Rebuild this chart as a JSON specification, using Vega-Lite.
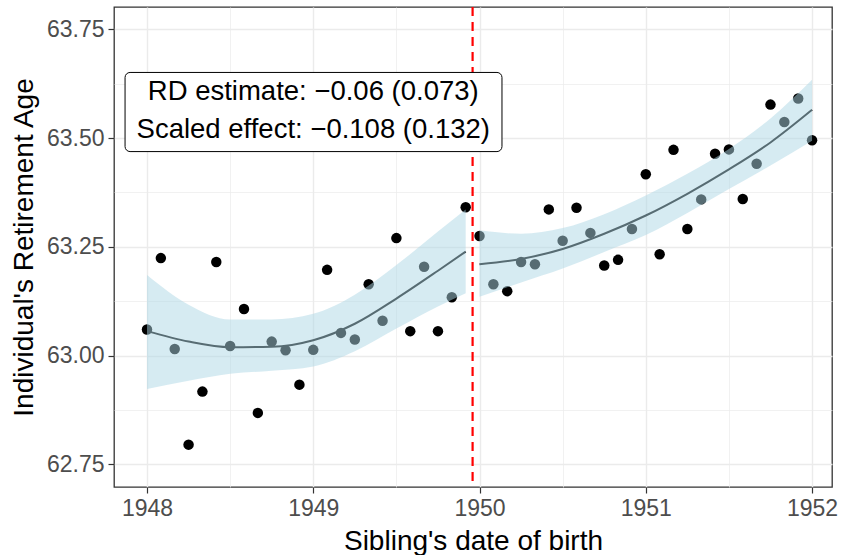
{
  "$schema": "https://vega.github.io/schema/vega-lite/v6.json",
  "width": 718,
  "height": 480,
  "autosize": {"type": "none"},
  "padding": {"left": 114, "top": 7, "right": 10, "bottom": 68},
  "background": "white",
  "config": {
    "view": {"stroke": "#333333", "strokeWidth": 1.3},
    "axis": {
      "domain": false,
      "gridColor": "#EBEBEB",
      "tickColor": "#333333",
      "tickWidth": 1.2,
      "tickSize": 6,
      "labelPadding": 4,
      "labelColor": "#4D4D4D",
      "labelFont": "Liberation Sans",
      "labelFontSize": 23,
      "titleFont": "Liberation Sans",
      "titleFontSize": 28,
      "titleFontWeight": "normal",
      "titleColor": "#000000"
    },
    "text": {"font": "Liberation Sans"}
  },
  "datasets": {
    "bins": [
      {"side": "before", "dob": 1948.0, "age": 63.060},
      {"side": "before", "dob": 1948.0833, "age": 63.224},
      {"side": "before", "dob": 1948.1667, "age": 63.015},
      {"side": "before", "dob": 1948.25, "age": 62.795},
      {"side": "before", "dob": 1948.3333, "age": 62.917},
      {"side": "before", "dob": 1948.4167, "age": 63.215},
      {"side": "before", "dob": 1948.5, "age": 63.022},
      {"side": "before", "dob": 1948.5833, "age": 63.107},
      {"side": "before", "dob": 1948.6667, "age": 62.868},
      {"side": "before", "dob": 1948.75, "age": 63.032},
      {"side": "before", "dob": 1948.8333, "age": 63.012},
      {"side": "before", "dob": 1948.9167, "age": 62.933},
      {"side": "before", "dob": 1949.0, "age": 63.013},
      {"side": "before", "dob": 1949.0833, "age": 63.197},
      {"side": "before", "dob": 1949.1667, "age": 63.052},
      {"side": "before", "dob": 1949.25, "age": 63.037},
      {"side": "before", "dob": 1949.3333, "age": 63.164},
      {"side": "before", "dob": 1949.4167, "age": 63.080},
      {"side": "before", "dob": 1949.5, "age": 63.270},
      {"side": "before", "dob": 1949.5833, "age": 63.056},
      {"side": "before", "dob": 1949.6667, "age": 63.204},
      {"side": "before", "dob": 1949.75, "age": 63.056},
      {"side": "before", "dob": 1949.8333, "age": 63.134},
      {"side": "before", "dob": 1949.9167, "age": 63.341},
      {"side": "after", "dob": 1950.0, "age": 63.275},
      {"side": "after", "dob": 1950.0833, "age": 63.164},
      {"side": "after", "dob": 1950.1667, "age": 63.148},
      {"side": "after", "dob": 1950.25, "age": 63.215},
      {"side": "after", "dob": 1950.3333, "age": 63.210},
      {"side": "after", "dob": 1950.4167, "age": 63.336},
      {"side": "after", "dob": 1950.5, "age": 63.264},
      {"side": "after", "dob": 1950.5833, "age": 63.340},
      {"side": "after", "dob": 1950.6667, "age": 63.282},
      {"side": "after", "dob": 1950.75, "age": 63.207},
      {"side": "after", "dob": 1950.8333, "age": 63.220},
      {"side": "after", "dob": 1950.9167, "age": 63.291},
      {"side": "after", "dob": 1951.0, "age": 63.417},
      {"side": "after", "dob": 1951.0833, "age": 63.233},
      {"side": "after", "dob": 1951.1667, "age": 63.473},
      {"side": "after", "dob": 1951.25, "age": 63.291},
      {"side": "after", "dob": 1951.3333, "age": 63.359},
      {"side": "after", "dob": 1951.4167, "age": 63.464},
      {"side": "after", "dob": 1951.5, "age": 63.474},
      {"side": "after", "dob": 1951.5833, "age": 63.360},
      {"side": "after", "dob": 1951.6667, "age": 63.441},
      {"side": "after", "dob": 1951.75, "age": 63.577},
      {"side": "after", "dob": 1951.8333, "age": 63.537},
      {"side": "after", "dob": 1951.9167, "age": 63.591},
      {"side": "after", "dob": 1952.0, "age": 63.495}
    ],
    "fit": [
      {"side": "before", "dob": 1948.0, "fit": 63.056, "lo": 62.923, "hi": 63.185},
      {"side": "before", "dob": 1948.25, "fit": 63.032, "lo": 62.942, "hi": 63.117},
      {"side": "before", "dob": 1948.5, "fit": 63.019, "lo": 62.958, "hi": 63.083},
      {"side": "before", "dob": 1948.75, "fit": 63.020, "lo": 62.965, "hi": 63.083},
      {"side": "before", "dob": 1949.0, "fit": 63.035, "lo": 62.975, "hi": 63.096},
      {"side": "before", "dob": 1949.25, "fit": 63.073, "lo": 63.010, "hi": 63.140},
      {"side": "before", "dob": 1949.5, "fit": 63.131, "lo": 63.062, "hi": 63.208},
      {"side": "before", "dob": 1949.75, "fit": 63.195, "lo": 63.113, "hi": 63.285},
      {"side": "before", "dob": 1949.9167, "fit": 63.239, "lo": 63.143, "hi": 63.336},
      {"side": "after", "dob": 1950.0, "fit": 63.210, "lo": 63.135, "hi": 63.288},
      {"side": "after", "dob": 1950.25, "fit": 63.222, "lo": 63.168, "hi": 63.280},
      {"side": "after", "dob": 1950.5, "fit": 63.245, "lo": 63.200, "hi": 63.293},
      {"side": "after", "dob": 1950.75, "fit": 63.280, "lo": 63.238, "hi": 63.325},
      {"side": "after", "dob": 1951.0, "fit": 63.322, "lo": 63.277, "hi": 63.368},
      {"side": "after", "dob": 1951.25, "fit": 63.372, "lo": 63.328, "hi": 63.418},
      {"side": "after", "dob": 1951.5, "fit": 63.428, "lo": 63.383, "hi": 63.475},
      {"side": "after", "dob": 1951.75, "fit": 63.490, "lo": 63.437, "hi": 63.545},
      {"side": "after", "dob": 1952.0, "fit": 63.565, "lo": 63.494, "hi": 63.634}
    ],
    "cutoff": [{"dob": 1949.9583}],
    "labelbox": [{"x1": 1947.868, "x2": 1950.135, "y1": 63.469, "y2": 63.651}],
    "labeltext": [
      {"dob": 1949.0, "age": 63.606, "txt": "RD estimate: −0.06 (0.073)"},
      {"dob": 1949.0, "age": 63.518, "txt": "Scaled effect: −0.108 (0.132)"}
    ]
  },
  "encoding": {
    "x": {
      "type": "quantitative",
      "scale": {"domain": [1947.8015, 1952.12], "nice": false, "zero": false},
      "axis": {
        "title": "Sibling's date of birth",
        "values": [1948, 1948.5, 1949, 1949.5, 1950, 1950.5, 1951, 1951.5, 1952],
        "labelExpr": "datum.value % 1 === 0 ? format(datum.value, 'd') : ''",
        "gridWidth": {"condition": {"test": "datum.value % 1 === 0", "value": 1.4}, "value": 0.7},
        "tickOpacity": {"condition": {"test": "datum.value % 1 === 0", "value": 1}, "value": 0},
        "titlePadding": 7
      }
    },
    "y": {
      "type": "quantitative",
      "scale": {"domain": [62.6976, 63.8015], "nice": false, "zero": false},
      "axis": {
        "title": "Individual's Retirement Age",
        "values": [62.75, 62.875, 63, 63.125, 63.25, 63.375, 63.5, 63.625, 63.75],
        "labelExpr": "(datum.value * 4) % 1 === 0 ? format(datum.value, '.2f') : ''",
        "gridWidth": {"condition": {"test": "(datum.value * 4) % 1 === 0", "value": 1.4}, "value": 0.7},
        "tickOpacity": {"condition": {"test": "(datum.value * 4) % 1 === 0", "value": 1}, "value": 0},
        "titlePadding": 8
      }
    }
  },
  "layer": [
    {
      "data": {"name": "bins"},
      "mark": {"type": "point", "filled": true, "shape": "circle", "size": 110, "color": "#000000", "opacity": 1},
      "encoding": {"x": {"field": "dob"}, "y": {"field": "age"}}
    },
    {
      "data": {"name": "fit"},
      "mark": {"type": "line", "color": "#000000", "strokeWidth": 2, "interpolate": "monotone"},
      "encoding": {"x": {"field": "dob"}, "y": {"field": "fit"}, "detail": {"field": "side"}}
    },
    {
      "data": {"name": "fit"},
      "mark": {"type": "area", "color": "#ADD8E6", "opacity": 0.5, "interpolate": "monotone"},
      "encoding": {"x": {"field": "dob"}, "y": {"field": "lo"}, "y2": {"field": "hi"}, "detail": {"field": "side"}}
    },
    {
      "data": {"name": "cutoff"},
      "mark": {"type": "rule", "color": "#FF0000", "strokeWidth": 2.2, "strokeDash": [9, 6]},
      "encoding": {"x": {"field": "dob"}}
    },
    {
      "data": {"name": "labelbox"},
      "mark": {"type": "rect", "fill": "white", "stroke": "#000000", "strokeWidth": 1, "cornerRadius": 5},
      "encoding": {"x": {"field": "x1"}, "x2": {"field": "x2"}, "y": {"field": "y1"}, "y2": {"field": "y2"}}
    },
    {
      "data": {"name": "labeltext"},
      "mark": {"type": "text", "fontSize": 27.5, "color": "#000000", "align": "center", "baseline": "middle"},
      "encoding": {"x": {"field": "dob"}, "y": {"field": "age"}, "text": {"field": "txt"}}
    }
  ]
}
